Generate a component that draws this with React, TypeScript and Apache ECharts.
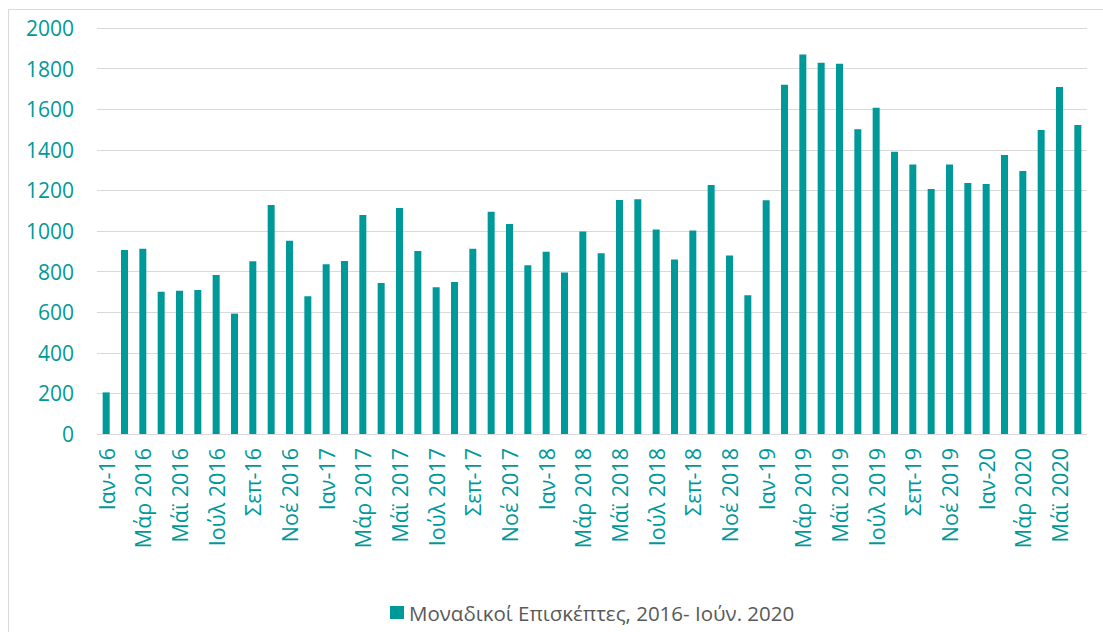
import React, { useEffect, useRef } from "react";
import * as echarts from "echarts";

const categories = [
  "Ιαν-16", "Φεβ 2016", "Μάρ 2016", "Απρ 2016", "Μάϊ 2016", "Ιούν 2016", "Ιούλ 2016", "Αύγ 2016", "Σεπ-16", "Οκτ 2016", "Νοέ 2016", "Δεκ 2016",
  "Ιαν-17", "Φεβ 2017", "Μάρ 2017", "Απρ 2017", "Μάϊ 2017", "Ιούν 2017", "Ιούλ 2017", "Αύγ 2017", "Σεπ-17", "Οκτ 2017", "Νοέ 2017", "Δεκ 2017",
  "Ιαν-18", "Φεβ 2018", "Μάρ 2018", "Απρ 2018", "Μάϊ 2018", "Ιούν 2018", "Ιούλ 2018", "Αύγ 2018", "Σεπ-18", "Οκτ 2018", "Νοέ 2018", "Δεκ 2018",
  "Ιαν-19", "Φεβ 2019", "Μάρ 2019", "Απρ 2019", "Μάϊ 2019", "Ιούν 2019", "Ιούλ 2019", "Αύγ 2019", "Σεπ-19", "Οκτ 2019", "Νοέ 2019", "Δεκ 2019",
  "Ιαν-20", "Φεβ 2020", "Μάρ 2020", "Απρ 2020", "Μάϊ 2020", "Ιούν 2020",
];

const visitors = [
  205, 906, 913, 701, 706, 709, 783, 593, 851, 1128, 952, 678,
  836, 852, 1079, 744, 1113, 901, 723, 749, 913, 1095, 1034, 831,
  898, 795, 997, 890, 1153, 1156, 1008, 860, 1002, 1227, 879, 683,
  1151, 1721, 1869, 1829, 1824, 1501, 1607, 1391, 1328, 1207, 1328, 1236,
  1231, 1374, 1296, 1497, 1709, 1522,
];

const seriesName = "Μοναδικοί Επισκέπτες, 2016- Ιούν. 2020";

const TEAL = "#009999";
const FONT = "'Open Sans', sans-serif";

export default function App() {
  const ref = useRef<HTMLDivElement>(null);
  useEffect(() => {
    document.body.style.margin = "0";
    const chart = echarts.init(ref.current!, null, { renderer: "svg" });
    chart.setOption({
      animation: false,
      backgroundColor: "#ffffff",
      textStyle: { fontFamily: FONT },
      graphic: [
        {
          type: "rect",
          shape: { x: 8.5, y: 9.5, width: 1110, height: 640 },
          style: { fill: "none", stroke: "#d9d9d9", lineWidth: 1 },
          silent: true,
        },
      ],
      grid: { left: 97, right: 16, top: 28, bottom: 198 },
      legend: {
        data: [seriesName],
        left: 385,
        top: 597,
        icon: "rect",
        itemWidth: 14,
        itemHeight: 13,
        itemGap: 10,
        textStyle: { color: "#595959", fontSize: 20.5, fontFamily: FONT },
      },
      xAxis: {
        type: "category",
        data: categories,
        axisLine: { lineStyle: { color: "#d9d9d9", width: 1 } },
        axisTick: { show: false },
        axisLabel: {
          interval: 1,
          rotate: 90,
          color: TEAL,
          fontSize: 21.5,
          fontFamily: FONT,
          margin: 14,
        },
      },
      yAxis: {
        type: "value",
        min: 0,
        max: 2000,
        interval: 200,
        axisLine: { show: false },
        axisTick: { show: false },
        splitLine: { lineStyle: { color: "#d9d9d9", width: 1 } },
        axisLabel: {
          color: TEAL,
          fontSize: 21,
          fontFamily: FONT,
          margin: 23,
          formatter: (v: number) => String(v),
        },
      },
      series: [
        {
          name: seriesName,
          type: "bar",
          data: visitors,
          barWidth: 7,
          itemStyle: { color: TEAL },
        },
      ],
    });
    return () => chart.dispose();
  }, []);
  return <div ref={ref} style={{ width: 1103, height: 632 }} />;
}
